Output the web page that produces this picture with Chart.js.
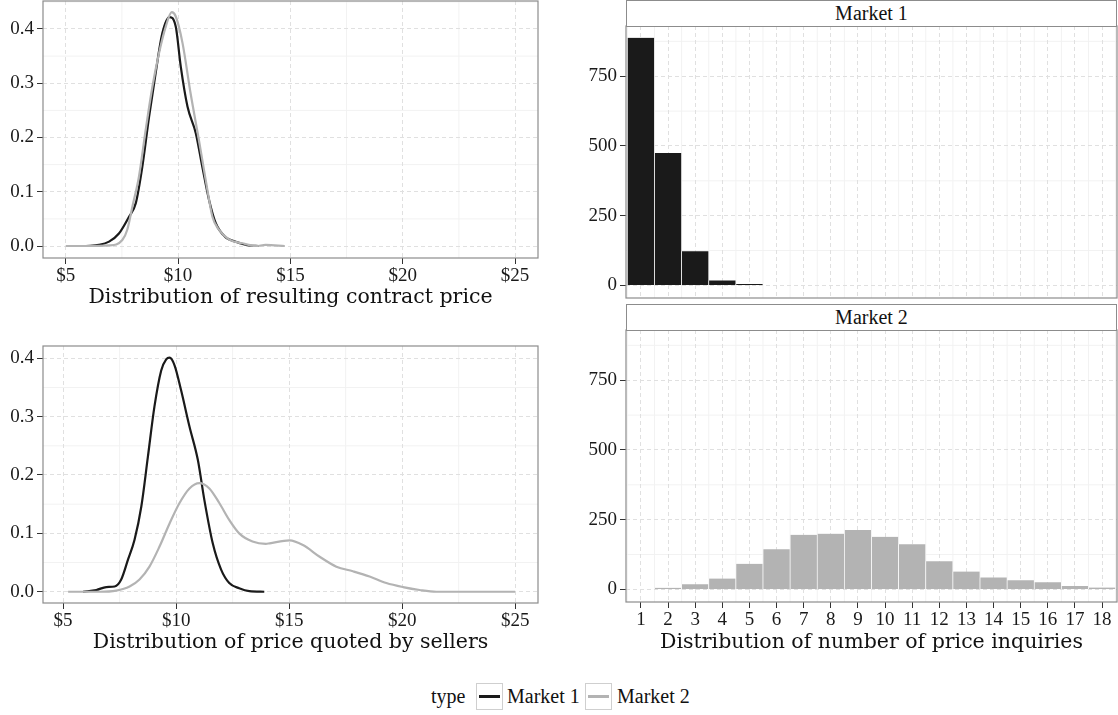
<!DOCTYPE html>
<html>
<head>
<meta charset="utf-8">
<script src="https://cdn.jsdelivr.net/npm/chart.js@4.4.0/dist/chart.umd.min.js"></script>
<style>
  body { margin: 0; background: #fff; }
  #page { position: relative; width: 1118px; height: 715px; overflow: hidden; font-family: "Liberation Serif", serif; color: #111; }
  canvas { position: absolute; }
  .title { position: absolute; font-family: "DejaVu Serif", serif; font-size: 20.5px; line-height: 24px; text-align: center; white-space: nowrap; }
  .strip { position: absolute; left: 626px; width: 491px; height: 27px; box-sizing: border-box; border: 1px solid #8c8c8c; background: #fff; text-align: center; font-size: 20px; line-height: 25px; }
  .leg { position: absolute; top: 683px; height: 27px; line-height: 27px; font-size: 20px; white-space: nowrap; }
  .key { position: absolute; top: 683px; width: 27px; height: 27px; box-sizing: border-box; border: 1px solid #cfcfcf; }
  .key i { position: absolute; left: 2px; right: 2px; top: 11px; height: 3px; }
</style>
</head>
<body>
<div id="page">
  <canvas id="contract" width="545" height="300" style="left:0;top:0"></canvas>
  <canvas id="quoted" width="545" height="310" style="left:0;top:330px"></canvas>
  <canvas id="inq1" width="558" height="300" style="left:560px;top:0"></canvas>
  <canvas id="inq2" width="558" height="340" style="left:560px;top:300px"></canvas>

  <div class="title" style="left:43px;width:495px;top:284px">Distribution of resulting contract price</div>
  <div class="title" style="left:43px;width:495px;top:629px">Distribution of price quoted by sellers</div>
  <div class="title" style="left:626px;width:491px;top:629px">Distribution of number of price inquiries</div>

  <div class="strip" style="top:0">Market 1</div>
  <div class="strip" style="top:304px">Market 2</div>

  <div class="leg" style="left:431px">type</div>
  <div class="key" style="left:476px"><i style="background:#1a1a1a"></i></div>
  <div class="leg" style="left:507px">Market 1</div>
  <div class="key" style="left:585px"><i style="background:#b3b3b3"></i></div>
  <div class="leg" style="left:617px">Market 2</div>
</div>
<script>
// density of resulting contract price
const m1ContractX = [5.9, 6.48, 6.93, 7.37, 7.82, 8.12, 8.41, 8.71, 9.0, 9.3, 9.62, 9.9, 10.12, 10.42, 10.79, 11.08, 11.38, 11.68, 12.12, 12.57, 13.16, 13.6];
const m1ContractY = [0.0, 0.002, 0.008, 0.023, 0.054, 0.079, 0.146, 0.238, 0.318, 0.392, 0.422, 0.404, 0.331, 0.257, 0.208, 0.146, 0.085, 0.042, 0.016, 0.008, 0.001, 0.0];
const m2ContractX = [5.0, 5.9, 6.93, 7.52, 7.74, 7.97, 8.26, 8.56, 8.86, 9.15, 9.45, 9.72, 9.9, 10.2, 10.56, 10.93, 11.23, 11.53, 11.82, 12.27, 12.86, 13.46, 13.9, 14.75];
const m2ContractY = [0.0, 0.0, 0.001, 0.011, 0.03, 0.073, 0.128, 0.214, 0.294, 0.355, 0.404, 0.431, 0.423, 0.374, 0.281, 0.195, 0.122, 0.054, 0.03, 0.012, 0.005, 0.0, 0.002, 0.0];

// density of price quoted by sellers
const m1QuoteX = [5.88, 6.47, 6.91, 7.28, 7.57, 7.87, 8.16, 8.46, 8.75, 9.04, 9.34, 9.56, 9.71, 9.93, 10.22, 10.59, 10.96, 11.25, 11.62, 11.99, 12.35, 12.79, 13.24, 13.9];
const m1QuoteY = [0.0, 0.003, 0.008, 0.009, 0.021, 0.055, 0.089, 0.146, 0.231, 0.317, 0.379, 0.398, 0.401, 0.388, 0.345, 0.283, 0.226, 0.157, 0.083, 0.038, 0.015, 0.006, 0.001, 0.0];
const m2QuoteX = [5.22, 6.62, 7.35, 7.94, 8.38, 8.82, 9.26, 9.71, 10.15, 10.59, 11.03, 11.47, 11.91, 12.35, 12.79, 13.38, 13.97, 14.14, 15.02, 15.61, 16.35, 17.09, 17.82, 18.56, 19.3, 20.04, 20.77, 21.51, 23.0, 25.0];
const m2QuoteY = [0.0, 0.0, 0.002, 0.009, 0.021, 0.043, 0.077, 0.117, 0.152, 0.177, 0.186, 0.177, 0.152, 0.123, 0.1, 0.086, 0.082, 0.083, 0.088, 0.08, 0.06, 0.043, 0.035, 0.026, 0.015, 0.008, 0.003, 0.0, 0.0, 0.0];

// number of price inquiries
const inquiries = [1, 2, 3, 4, 5, 6, 7, 8, 9, 10, 11, 12, 13, 14, 15, 16, 17, 18];
const market1Counts = [888, 475, 123, 18, 5, 0, 0, 0, 0, 0, 0, 0, 0, 0, 0, 0, 0, 0];
const market2Counts = [0, 6, 19, 39, 92, 144, 196, 200, 213, 189, 162, 101, 64, 43, 33, 26, 12, 7];

// tick labels
const priceTicks = [5, 10, 15, 20, 25];
const densityTicks = [0, 0.1, 0.2, 0.3, 0.4];
const countTicks = [0, 250, 500, 750];

const BLACK = '#1a1a1a';
const GREY = '#b3b3b3';
const FONT = '"Liberation Serif", serif';

const pts = (xs, ys) => xs.map((x, i) => ({ x: x, y: ys[i] }));

// faint minor grid + grey panel border
const panelPlugin = {
  id: 'panel',
  beforeDraw(chart) {
    const ctx = chart.ctx, a = chart.chartArea;
    ctx.save();
    ctx.strokeStyle = '#f2f2f2';
    ctx.lineWidth = 1;
    ctx.beginPath();
    [chart.scales.x, chart.scales.y].forEach(sc => {
      const v = sc.ticks.map(t => t.value);
      const step = v[1] - v[0];
      for (let k = 0; k <= v.length + 1; k++) {
        const m = v[0] + (k - 0.5) * step;
        if (m < sc.min || m > sc.max) continue;
        const p = sc.getPixelForValue(m);
        if (sc.isHorizontal()) { ctx.moveTo(p, a.top); ctx.lineTo(p, a.bottom); }
        else { ctx.moveTo(a.left, p); ctx.lineTo(a.right, p); }
      }
    });
    ctx.stroke();
    ctx.restore();
  },
  afterDraw(chart) {
    const ctx = chart.ctx, a = chart.chartArea;
    ctx.save();
    ctx.strokeStyle = '#8c8c8c';
    ctx.lineWidth = 1.2;
    ctx.strokeRect(a.left, a.top, a.right - a.left, a.bottom - a.top);
    ctx.restore();
  }
};

function axis(min, max, values, size, fmt, show, pad) {
  return {
    type: 'linear', min: min, max: max, offset: false,
    afterBuildTicks: s => { s.ticks = values.map(v => ({ value: v })); },
    afterFit: s => {
      if (s.isHorizontal()) s.height = size; else s.width = size;
      s.paddingLeft = s.paddingRight = s.paddingTop = s.paddingBottom = 0;
    },
    grid: { color: '#e0e0e0', lineWidth: 1, offset: false, drawTicks: show, tickLength: 6, tickColor: '#333', tickWidth: 1 },
    border: { display: false, dash: [4, 3] },
    ticks: { display: show, padding: pad, color: '#1a1a1a', font: { family: FONT, size: 19 }, callback: fmt, maxRotation: 0, autoSkip: false }
  };
}

const common = (padTop, padRight) => ({
  responsive: false,
  animation: false,
  layout: { padding: { top: padTop, right: padRight, left: 0, bottom: 0 } },
  plugins: { legend: { display: false }, tooltip: { enabled: false } }
});

function densityChart(id, m1x, m1y, m2x, m2y, xr, yr, padTop, xh) {
  const opts = common(padTop, 7);
  opts.scales = {
    x: axis(xr[0], xr[1], priceTicks, xh, v => '$' + v, true, 1),
    y: axis(yr[0], yr[1], densityTicks, 43, v => v.toFixed(1), true, 3)
  };
  new Chart(document.getElementById(id), {
    type: 'line',
    data: {
      datasets: [
        { label: 'Market 1', data: pts(m1x, m1y), borderColor: BLACK, borderWidth: 2.2, pointRadius: 0, cubicInterpolationMode: 'monotone', order: 2 },
        { label: 'Market 2', data: pts(m2x, m2y), borderColor: GREY, borderWidth: 2.2, pointRadius: 0, cubicInterpolationMode: 'monotone', order: 1 }
      ]
    },
    options: opts,
    plugins: [panelPlugin]
  });
}

function countChart(id, counts, color, padTop, xh, showX) {
  const opts = common(padTop, 1);
  opts.scales = {
    x: axis(0.45, 18.55, inquiries, xh, v => String(v), showX, 1),
    y: axis(-45, 930, countTicks, 66, v => String(v), true, 3)
  };
  new Chart(document.getElementById(id), {
    type: 'bar',
    data: {
      datasets: [{
        label: id,
        data: pts(inquiries, counts),
        backgroundColor: color,
        borderColor: '#ffffff',
        borderWidth: { left: 0.7, right: 0.7, top: 0, bottom: 0 },
        borderSkipped: false,
        barPercentage: 1,
        categoryPercentage: 1
      }]
    },
    options: opts,
    plugins: [panelPlugin]
  });
}

densityChart('contract', m1ContractX, m1ContractY, m2ContractX, m2ContractY, [3.99, 26.02], [-0.0221, 0.4516], 1, 42);
densityChart('quoted', m1QuoteX, m1QuoteY, m2QuoteX, m2QuoteY, [4.11, 26.01], [-0.0193, 0.421], 16, 37);
countChart('inq1', market1Counts, BLACK, 26, 2, false);
countChart('inq2', market2Counts, GREY, 30, 38, true);
</script>
</body>
</html>
